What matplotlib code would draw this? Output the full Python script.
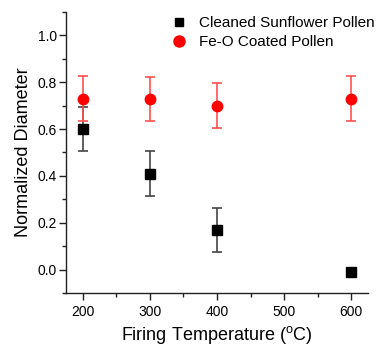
import matplotlib
matplotlib.use("Agg")
import matplotlib.pyplot as plt
from matplotlib.ticker import MultipleLocator
from matplotlib.lines import Line2D

plt.rcParams['font.family'] = ['Liberation Sans', 'DejaVu Sans']
plt.rcParams['mathtext.fontset'] = 'custom'
plt.rcParams['mathtext.rm'] = 'Liberation Sans'

# datos
temperaturas = [200, 300, 400, 600]
limpio = [0.60, 0.41, 0.17, -0.01]
limpio_err = [0.095, 0.095, 0.095, 0.0]
recubierto = [0.73, 0.73, 0.70, 0.73]
recubierto_err = [0.095, 0.094, 0.095, 0.095]
etiquetas = ['Cleaned Sunflower Pollen', 'Fe-O Coated Pollen']

fig = plt.figure(figsize=(3.83, 3.46), dpi=100)
ax = fig.add_axes([0.1723, 0.1532, 0.7887, 0.8121])

ax.errorbar(temperaturas, limpio, yerr=limpio_err, fmt='s', color='black',
            ecolor='#444444', elinewidth=1.2, capsize=3.5, capthick=1.2,
            markersize=6.5, zorder=2)
ax.errorbar(temperaturas, recubierto, yerr=recubierto_err, fmt='o', color='#ff0000',
            ecolor='#ff5050', elinewidth=1.2, capsize=3.5, capthick=1.2,
            markersize=7.5, zorder=3)

ax.set_xlim(175, 625)
ax.set_ylim(-0.1, 1.1)
ax.xaxis.set_minor_locator(MultipleLocator(50))
ax.yaxis.set_minor_locator(MultipleLocator(0.1))
ax.set_yticks([0.0, 0.2, 0.4, 0.6, 0.8, 1.0])
ax.set_xticks([200, 300, 400, 500, 600])

for lado in ['top', 'right']:
    ax.spines[lado].set_visible(False)
for lado in ['left', 'bottom']:
    ax.spines[lado].set_linewidth(1.0)
    ax.spines[lado].set_color('#222222')

ax.tick_params(which='major', length=5, width=1.0, color='#222222', labelsize=10, pad=1.5)
ax.tick_params(axis='x', which='major', pad=4)
ax.tick_params(which='minor', length=3, width=1.0, color='#222222')

ax.set_xlabel(r'Firing Temperature ($^\mathrm{o}$C)', fontsize=13, labelpad=3)
ax.set_ylabel('Normalized Diameter', fontsize=13, labelpad=4)

# leyenda solo con marcadores
handles = [Line2D([], [], ls='none', marker='s', color='black', markersize=6),
           Line2D([], [], ls='none', marker='o', color='#ff0000', markersize=8)]
ax.legend(handles, etiquetas, loc='upper left', bbox_to_anchor=(171 / 383, 1 - 16 / 346),
          bbox_transform=fig.transFigure, frameon=False, borderpad=0,
          handlelength=1.0, handletextpad=0.85, labelspacing=0.35,
          fontsize=11, borderaxespad=0)

fig.savefig('out.png', dpi=100)
